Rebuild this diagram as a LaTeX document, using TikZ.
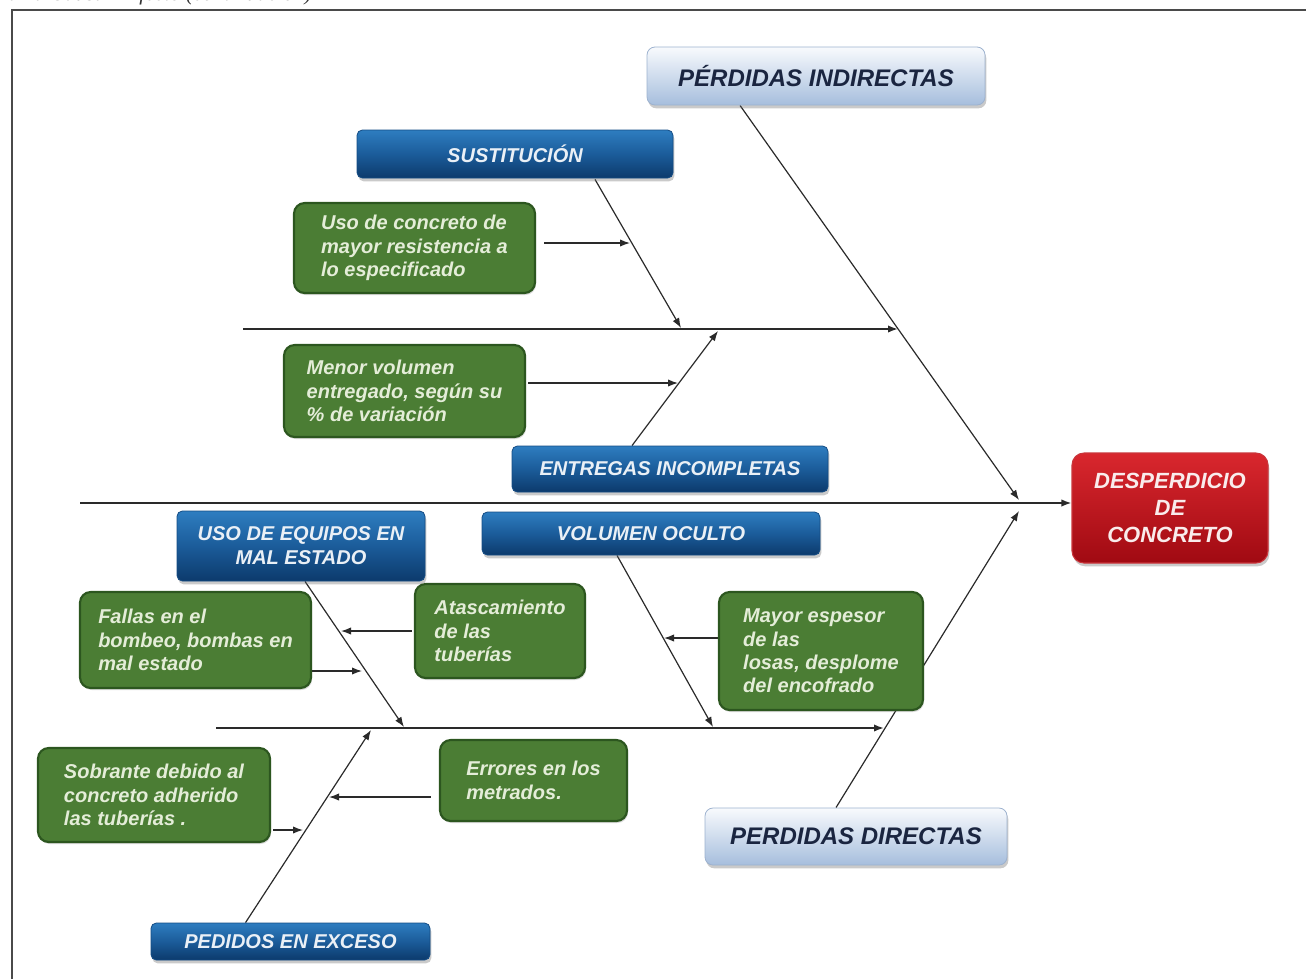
\documentclass[tikz,border=0pt]{standalone}
\usepackage{fontspec}
\setmainfont{Liberation Sans}
\newfontfamily\captionserif{Liberation Serif}
\usetikzlibrary{arrows.meta,shadows,calc,backgrounds}

\definecolor{bluetop}{HTML}{2E7DC0}
\definecolor{bluemid}{HTML}{1B5C9A}
\definecolor{bluebot}{HTML}{0C3A6C}
\definecolor{blueedge}{HTML}{144C84}
\definecolor{bluetext}{HTML}{EAF0F6}
\definecolor{lighttop}{HTML}{F8FAFD}
\definecolor{lightbot}{HTML}{A6BEDD}
\definecolor{lightedge}{HTML}{9DB2CF}
\definecolor{lighttext}{HTML}{1A2540}
\definecolor{greenfill}{HTML}{4B7D34}
\definecolor{greenedge}{HTML}{2C561F}
\definecolor{greentext}{HTML}{E4EDD8}
\definecolor{redtop}{HTML}{D9272E}
\definecolor{redbot}{HTML}{A00A12}
\definecolor{rededge}{HTML}{C9353B}
\definecolor{redtext}{HTML}{F9ECEC}
\definecolor{linegray}{HTML}{2A2A2A}
\definecolor{framegray}{HTML}{4A4A4A}

\begin{document}
\begin{tikzpicture}[x=0.75pt, y=-0.75pt,
  px/.style 2 args={minimum width=#1*0.75pt, minimum height=#2*0.75pt},
  softshadow/.style={drop shadow={shadow xshift=1pt, shadow yshift=-2.5pt,
      opacity=0.35, fill=black!60}},
  bluebox/.style={rounded corners=4pt, draw=blueedge, line width=0.6pt,
      top color=bluetop, bottom color=bluebot, middle color=bluemid,
      text=bluetext, align=center, inner sep=0pt, softshadow,
      font=\fontsize{15pt}{18pt}\selectfont\bfseries\itshape},
  lightbox/.style={rounded corners=6pt, draw=lightedge, line width=0.6pt,
      top color=lighttop, bottom color=lightbot,
      text=lighttext, align=center, inner sep=0pt, softshadow,
      font=\fontsize{18pt}{21pt}\selectfont\bfseries\itshape},
  greenbox/.style={rounded corners=8pt, draw=greenedge, line width=1.6pt,
      fill=greenfill, text=greentext, align=left, inner sep=0pt,
      drop shadow={shadow xshift=0.8pt, shadow yshift=-1.5pt, opacity=0.25, fill=black!60},
      font=\fontsize{15pt}{17.6pt}\selectfont\bfseries\itshape},
  redbox/.style={rounded corners=9pt, draw=rededge, line width=0.8pt,
      top color=redtop, bottom color=redbot,
      text=redtext, align=center, inner sep=0pt, softshadow,
      font=\fontsize{16.5pt}{20pt}\selectfont\bfseries\itshape},
  bone/.style={draw=linegray, line width=0.9pt, -{Latex[length=7.5pt,width=5.5pt]}},
  spine/.style={bone, line width=1.2pt},
]
\useasboundingbox (0,0) rectangle (1306,979);
\clip (0,0) rectangle (1306,979);

% page frame and running title above it
\node[anchor=base east, inner sep=0pt, text=black!80,
      font=\captionserif\itshape\fontsize{16pt}{19pt}\selectfont] (title) at (312,0.5)
  {Diagrama Causa – Efecto (continuación)};
\draw[framegray, line width=1.4pt] (12,979) -- (12,10) -- (1306,10);

% main categories, causes and effect
\node[lightbox, px={338}{58}] (PI) at (816,76) {PÉRDIDAS INDIRECTAS};
\node[bluebox, px={316}{48}] (SUS) at (515,154) {SUSTITUCIÓN};
\node[greenbox, px={241}{90}] (G1) at (414.5,248) {Uso de concreto de\\mayor resistencia a\\lo especificado};
\node[greenbox, px={241}{92}] (G2) at (404.5,391) {Menor volumen\\entregado, según su\\\% de variación};
\node[bluebox, px={316}{46}] (ENT) at (670,469) {ENTREGAS INCOMPLETAS};
\node[redbox, px={196}{110}] (RED) at (1170,508) {DESPERDICIO\\DE\\CONCRETO};
\node[bluebox, px={248}{70}] (USO) at (301,546) {USO DE EQUIPOS EN\\MAL ESTADO};
\node[bluebox, px={338}{43}] (VOL) at (651,533.5) {VOLUMEN OCULTO};
\node[greenbox, px={231}{96}] (G3) at (195.5,640) {Fallas en el\\bombeo, bombas en\\mal estado};
\node[greenbox, px={170}{94}] (G4) at (500,631) {Atascamiento\\de las\\tuberías};
\node[greenbox, px={204}{118}] (G5) at (821,651) {Mayor espesor\\de las\\losas, desplome\\del encofrado};
\node[greenbox, px={232}{94}] (G6) at (154,795) {Sobrante debido al\\concreto adherido\\las tuberías .};
\node[greenbox, px={187}{81}] (G7) at (533.5,780.5) {Errores en los\\metrados.};
\node[bluebox, px={279}{37}] (PED) at (290.5,941.5) {PEDIDOS EN EXCESO};
\node[lightbox, px={302}{57}] (PD) at (856,836.5) {PERDIDAS DIRECTAS};

% junction points on the spines
\coordinate (spineL) at (80,503);
\coordinate (Jup) at (1019,500);
\coordinate (Jlo) at (1019,511);
\coordinate (upL) at (243,329);
\coordinate (upR) at (898,329);
\coordinate (loL) at (216,728);
\coordinate (loR) at (884,728);
\coordinate (s1) at (681,328);
\coordinate (s2) at (718,331);
\coordinate (s3) at (404,727);
\coordinate (s4) at (371,730);
\coordinate (s5) at (713,727);

\begin{scope}[on background layer]
  % spines
  \draw[spine] (spineL) -- (spineL -| RED.west);
  \draw[bone] ($(PI.south)+(-76,0)$) -- (Jup);
  \draw[bone] ($(PD.north)+(-20,0)$) -- (Jlo);
  \draw[spine] (upL) -- (upR);
  \draw[spine] (loL) -- (loR);
  % category bones
  \draw[bone] ($(SUS.south)+(80,1)$) -- (s1);
  \draw[bone] ($(ENT.north)+(-38,0)$) -- (s2);
  \draw[bone] ($(USO.south)+(4,0)$) -- (s3);
  \draw[bone] ($(PED.north)+(-45,0)$) -- (s4);
  \draw[bone] ($(VOL.south)+(-34,0)$) -- (s5);
  % cause arrows
  \draw[bone] ($(G1.east)+(8,-5)$) -- (630,243);
  \draw[bone] ($(G2.east)+(2,-8)$) -- (678,383);
  \draw[bone] ($(G3.east)+(0,31)$) -- (362,671);
  \draw[bone] ($(G4.west)+(-2,0)$) -- (341,631);
  \draw[bone] ($(G5.west)+(0,-13)$) -- (664,638);
  \draw[bone] ($(G6.east)+(2,35)$) -- (303,830);
  \draw[bone] ($(G7.west)+(-8,16.5)$) -- (329,797);
\end{scope}
\end{tikzpicture}
\end{document}
